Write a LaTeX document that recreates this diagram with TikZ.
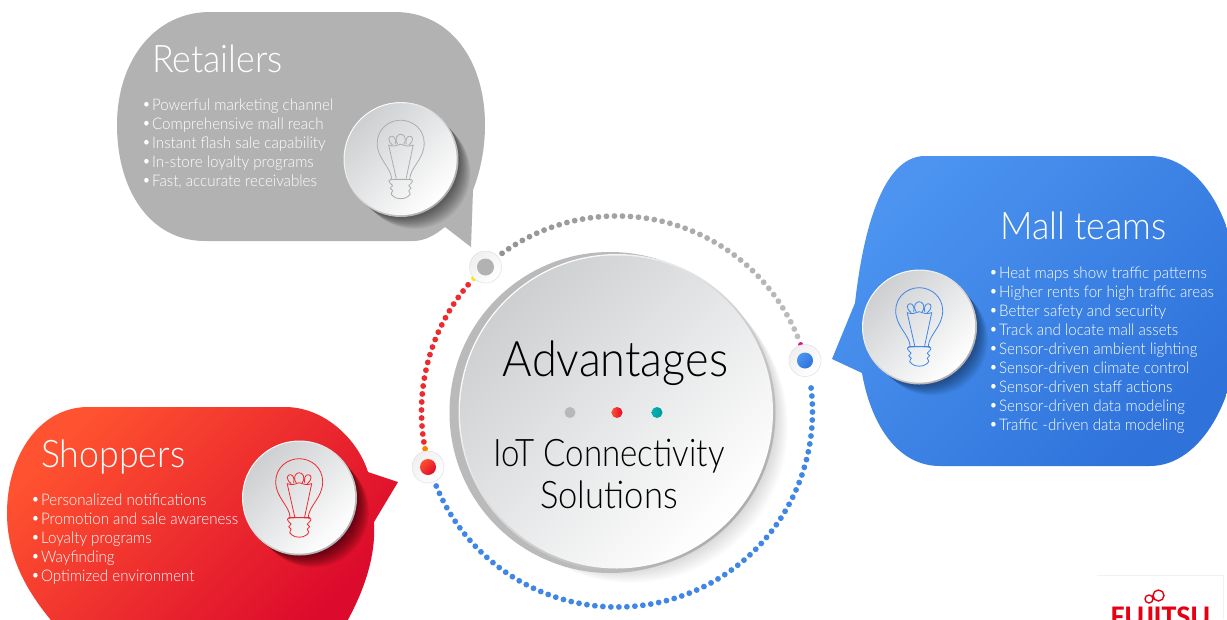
\documentclass[tikz,border=0pt]{standalone}
\usepackage{fontspec}
\setmainfont{Lato Light}
\newfontfamily\logofont{Carlito}
\usetikzlibrary{calc}
\definecolor{retgray}{HTML}{B2B2B2}
\definecolor{shopA}{HTML}{FF5230}
\definecolor{shopB}{HTML}{DC0A2C}
\definecolor{mallA}{HTML}{4C94F0}
\definecolor{mallB}{HTML}{2E72DA}
\definecolor{discA}{HTML}{CDCFD1}
\definecolor{dotgray}{HTML}{939393}
\definecolor{dotred}{HTML}{EE2A2E}
\definecolor{dotblue}{HTML}{3F86E6}
\definecolor{fjred}{HTML}{E60012}
\newcommand{\retpath}{(205,241) .. controls (150,241) and (117,190) .. (117,125) .. controls (117,60) and (155,12) .. (210,12) -- (395,12) .. controls (450,12) and (485,60) .. (485,125) .. controls (485,150) and (480,172) .. (473,190) -- (471,247) -- (445,227) .. controls (435,235) and (425,241) .. (413,241) -- cycle}
\newcommand{\mallpath}{(940,466) .. controls (895,466) and (870,420) .. (862,373) -- (832,359) -- (855,303) .. controls (862,240) and (880,156) .. (925,156) -- (1150,156) .. controls (1200,156) and (1240,220) .. (1240,311) .. controls (1240,400) and (1200,466) .. (1150,466) -- cycle}
\newcommand{\shoppath}{(88,407) -- (285,407) .. controls (325,407) and (358,440) .. (368,472) -- (398,482) -- (374,522) .. controls (376,555) and (365,590) .. (345,625) -- (55,625) .. controls (25,590) and (7,555) .. (7,513) .. controls (7,455) and (40,407) .. (88,407) -- cycle}
\newcommand{\bl}[1]{\makebox[10.5pt][l]{\raisebox{.5pt}{\textbullet}}#1}
\tikzset{
  titletext/.style={anchor=base west,inner sep=0pt,text=white,xscale=.94,transform shape,font=\fontsize{38}{42}\selectfont},
  listtext/.style={anchor=north west,inner sep=0pt,align=left,text=white,xscale=.945,transform shape,font=\fontsize{16}{19}\selectfont},
  disc/.style={circle,inner sep=0pt,minimum size=#1,left color=discA,right color=white,shading angle=45},
  rim/.style={circle,inner sep=0pt,minimum size=#1,left color=white,right color=black!32,shading angle=45},
  smalldisc/.style={circle,inner sep=0pt,minimum size=32pt,left color=black!6,right color=white,shading angle=45,draw=black!12,line width=.5pt},
  centertext/.style={inner sep=0pt,anchor=base,text=black,xscale=#1,transform shape},
  pics/bulb/.style={code={
    \begin{scope}[draw=#1,line width=.8pt,line cap=round,line join=round]
    \draw (-9,20) .. controls (-9.5,8) and (-23.5,0) .. (-23.5,-16) .. controls (-23.5,-30) and (-12,-39) .. (0,-39) .. controls (12,-39) and (23.5,-30) .. (23.5,-16) .. controls (23.5,0) and (9.5,8) .. (9,20);
    \draw (-12,-14) -- (-4.5,19) (12.5,-14) -- (5.5,19);
    \draw (-12,-14) .. controls (-6,-12) and (-4,-14) .. (0,-15) .. controls (4,-14) and (6,-12) .. (12.5,-14);
    \draw (-8,-14) .. controls (-14,-19) and (-12,-23) .. (-9,-23) .. controls (-6,-23) and (-4.5,-19) .. (-5.5,-15);
    \draw (-3,-15) .. controls (-7,-21) and (-3,-25) .. (0,-25) .. controls (3,-25) and (7,-21) .. (3,-15);
    \draw (8,-14) .. controls (14,-19) and (12,-23) .. (9,-23) .. controls (6,-23) and (4.5,-19) .. (5.5,-15);
    \draw (-10.5,20) -- (10.5,20);
    \draw plot[smooth cycle,tension=.6] coordinates {(-10,20.5) (-10.5,24) (-8,26.5) (-10.5,29) (-8,31.5) (-9.5,35) (-4,39) (4,39) (9.5,35) (8,31.5) (10.5,29) (8,26.5) (10.5,24) (10,20.5)};
    \end{scope}}}
}
\newcommand{\softshadow}[5]{% x y radius dx opacity
  \foreach \s in {0,...,19}{
    \fill[black,opacity=#5] ({#1+#4*\s/19},{#2+#4*\s/19}) circle[radius={#3-\s*0.1}];
  }
}
\begin{document}
\begin{tikzpicture}[x=1pt,y=-1pt]
\useasboundingbox (0,0) rectangle (1227,619);
\clip (0,0) rectangle (1227,619);
\fill[white] (0,0) rectangle (1227,619);

% logo frame
\draw[black!5,line width=.6pt] (1097,575) -- (1223,575) -- (1223,619);

% bubbles
\fill[retgray] \retpath;
\shade[left color=mallA,right color=mallB,shading angle=45] \mallpath;
\shade[left color=shopA,right color=shopB,shading angle=45] \shoppath;

% bubble disc shadows
\begin{scope}\clip \retpath; \softshadow{401}{159.5}{57.5}{14}{.032} \end{scope}
\begin{scope}\clip \mallpath; \softshadow{919.5}{327}{57.5}{13}{.025} \end{scope}
\begin{scope}\clip \shoppath; \softshadow{299.5}{498}{57.5}{14}{.035} \end{scope}

% centre disc soft shadow
\softshadow{617}{412}{158}{15}{.008}

% dotted ring
\foreach \a in {126,123.65,...,22}{
  \pgfmathsetmacro\m{100-40*(126-\a)/104}
  \fill[dotgray!\m!white] ({617+195.5*cos(\a)},{411.5-195.5*sin(\a)}) circle[radius=2.9];}
\foreach \a in {139.6,141.95,...,189}{\fill[dotred] ({617+195.5*cos(\a)},{411.5-195.5*sin(\a)}) circle[radius=2.9];}
\foreach \a in {202.4,204.75,...,369}{\fill[dotblue] ({617+195.5*cos(\a)},{411.5-195.5*sin(\a)}) circle[radius=2.9];}
\fill[yellow!90!orange] ({617+195.5*cos(137)},{411.5-195.5*sin(137)}) circle[radius=2.9];
\fill[orange] ({617+195.5*cos(191)},{411.5-195.5*sin(191)}) circle[radius=2.9];
\fill[magenta!80!violet] ({617+195.5*cos(20)},{411.5-195.5*sin(20)}) circle[radius=2.6];

% small ring discs
\node[smalldisc] (sg) at (485.5,267) {};
\node[circle,inner sep=0pt,minimum size=17pt,fill=black!30] (sgi) at (sg.center) {};
\node[smalldisc] (sb) at (805,360.5) {};
\node[circle,inner sep=0pt,minimum size=16pt,left color=mallA,right color=mallB,shading angle=45] (sbi) at (sb.center) {};
\node[smalldisc] (sr) at (428,467) {};
\node[circle,inner sep=0pt,minimum size=16pt,left color=shopA,right color=shopB,shading angle=45] (sri) at (sr.center) {};

% centre disc
\node[circle,inner sep=0pt,minimum size=321pt,fill=black!27] (cback) at (610,412.5) {};
\node[rim={317pt}] (crim) at (617,412.5) {};
\node[disc={313pt}] (cdisc) at (616.5,412) {};
\node[centertext=.92,font=\fontsize{49}{54}\selectfont] (adv) at (615.5,376) {Advantages};
\node[circle,inner sep=0pt,minimum size=11pt,fill=black!28] (d1) at (570,412.5) {};
\node[circle,inner sep=0pt,minimum size=11pt,left color=shopA,right color=shopB] (d2) at (617,412.5) {};
\node[circle,inner sep=0pt,minimum size=11pt,left color=teal!60!cyan,right color=teal!80!cyan] (d3) at (657,412.5) {};
\node[centertext=.87,font=\fontsize{38}{42}\selectfont] (iot) at (609,466) {IoT Connectivity};
\node[centertext=.91,font=\fontsize{38}{42}\selectfont] (sol) at (609,508) {Solutions};

% bubble discs
\node[rim={115pt}] (rr) at (401,159.5) {};
\node[disc={112pt}] (rd) at (400.7,159.2) {};
\pic at (rd.center) {bulb={black!32}};
\node[rim={115pt}] (mr) at (919.5,327) {};
\node[disc={112pt}] (md) at (919.2,326.7) {};
\pic at (md.center) {bulb={dotblue}};
\node[rim={115pt}] (hr) at (299.5,498) {};
\node[disc={112pt}] (hd) at (299.2,497.7) {};
\pic at (hd.center) {bulb={dotred}};

% texts
\node[titletext] (tr) at (152,72) {Retailers};
\node[listtext] (lr) at (142,98) {\rule{0pt}{12pt}\bl{Powerful marketing channel}\\\bl{Comprehensive mall reach}\\\bl{Instant flash sale capability}\\\bl{In-store loyalty programs}\\\bl{Fast, accurate receivables}};
\node[titletext] (tm) at (1000,239) {Mall teams};
\node[listtext] (lm) at (989,266) {\rule{0pt}{12pt}\bl{Heat maps show traffic patterns}\\\bl{Higher rents for high traffic areas}\\\bl{Better safety and security}\\\bl{Track and locate mall assets}\\\bl{Sensor-driven ambient lighting}\\\bl{Sensor-driven climate control}\\\bl{Sensor-driven staff actions}\\\bl{Sensor-driven data modeling}\\\bl{Traffic -driven data modeling}};
\node[titletext] (ts) at (41,467) {Shoppers};
\node[listtext] (ls) at (31,493) {\rule{0pt}{12pt}\bl{Personalized notifications}\\\bl{Promotion and sale awareness}\\\bl{Loyalty programs}\\\bl{Wayfinding}\\\bl{Optimized environment}};

% logo
\node[inner sep=0pt,anchor=base,text=fjred,font=\logofont\fontsize{30}{34}\selectfont\bfseries] (fj) at (1160.5,626.5) {FUJITSU};
\draw[fjred,line width=1.4pt] (1149,599) circle[radius=4] (1158.5,595.5) circle[radius=5.5];
\end{tikzpicture}
\end{document}
